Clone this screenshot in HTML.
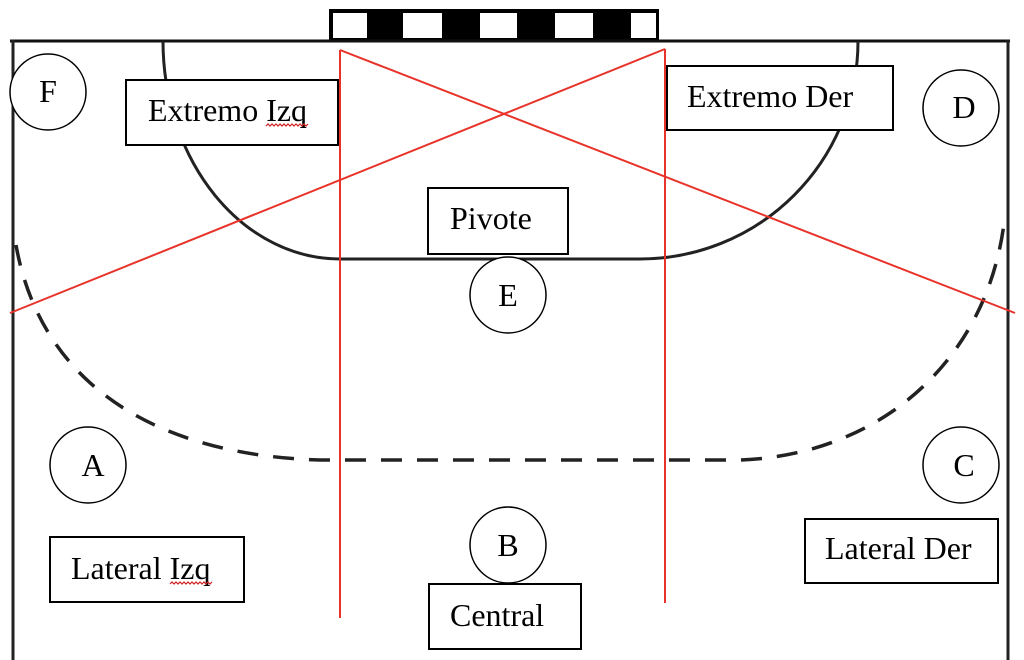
<!DOCTYPE html>
<html><head><meta charset="utf-8"><style>
html,body{margin:0;padding:0;background:#fff;}
svg{display:block}
text{font-family:"Liberation Serif",serif;font-size:32px;fill:#000}
</style></head><body>
<svg width="1024" height="660" viewBox="0 0 1024 660">
<rect x="0" y="0" width="1024" height="660" fill="#fff"/>
<rect x="329" y="9" width="330" height="32" fill="#000"/>
<rect x="333" y="13" width="34" height="25" fill="#fff"/>
<rect x="403" y="13" width="39" height="25" fill="#fff"/>
<rect x="480" y="13" width="37" height="25" fill="#fff"/>
<rect x="555" y="13" width="38" height="25" fill="#fff"/>
<rect x="631" y="13" width="25" height="25" fill="#fff"/>
<line x1="10" y1="41" x2="1010" y2="41" stroke="#111" stroke-width="3"/>
<line x1="13" y1="40" x2="13" y2="660" stroke="#222" stroke-width="3"/>
<line x1="1008" y1="40" x2="1008" y2="660" stroke="#222" stroke-width="3"/>
<path d="M163,41 A177,218 0 0 0 340,259 L640,259 A218,218 0 0 0 858,41" fill="none" stroke="#222" stroke-width="3"/>
<path d="M16,245 C40,380 150,455 320,460 L740,460 C880,455 990,360 1005,215" fill="none" stroke="#222" stroke-width="3.5" stroke-dasharray="21,15"/>
<g stroke="#e8332a" stroke-width="2" fill="none">
<line x1="340" y1="50" x2="340" y2="618"/>
<line x1="665" y1="49" x2="665" y2="603"/>
<line x1="340" y1="50" x2="1015" y2="313"/>
<line x1="665" y1="49" x2="10" y2="313"/>
</g>
<g fill="#fff" stroke="#000" stroke-width="2">
<rect x="126" y="80" width="212" height="65"/>
<rect x="667" y="66" width="226" height="64"/>
<rect x="428" y="188" width="140" height="66"/>
<rect x="50" y="537" width="194" height="65"/>
<rect x="805" y="519" width="193" height="64"/>
<rect x="429" y="584" width="152" height="65"/>
</g>
<text x="148" y="121">Extremo Izq</text>
<text x="687" y="107">Extremo Der</text>
<text x="450" y="229">Pivote</text>
<text x="71" y="579">Lateral Izq</text>
<text x="825" y="559">Lateral Der</text>
<text x="450" y="626">Central</text>
<g stroke="#d02020" stroke-width="1.2" fill="none">
<path d="M266,126 l2,-2 2,2 2,-2 2,2 2,-2 2,2 2,-2 2,2 2,-2 2,2 2,-2 2,2 2,-2 2,2 2,-2 2,2 2,-2 2,2 2,-2 2,2 2,-2"/>
<path d="M170,584 l2,-2 2,2 2,-2 2,2 2,-2 2,2 2,-2 2,2 2,-2 2,2 2,-2 2,2 2,-2 2,2 2,-2 2,2 2,-2 2,2 2,-2 2,2 2,-2"/>
</g>
<g fill="#fff" stroke="#000" stroke-width="1.5">
<circle cx="48" cy="92" r="38"/>
<circle cx="961" cy="108" r="38"/>
<circle cx="508" cy="295" r="38"/>
<circle cx="88" cy="465" r="38"/>
<circle cx="961" cy="465" r="38"/>
<circle cx="508" cy="545" r="38"/>
</g>
<g text-anchor="middle" style="font-size:30px">
<text x="48" y="102">F</text>
<text x="964" y="118">D</text>
<text x="508" y="306">E</text>
<text x="93" y="476">A</text>
<text x="964" y="476">C</text>
<text x="508" y="556">B</text>
</g>
</svg>
</body></html>
